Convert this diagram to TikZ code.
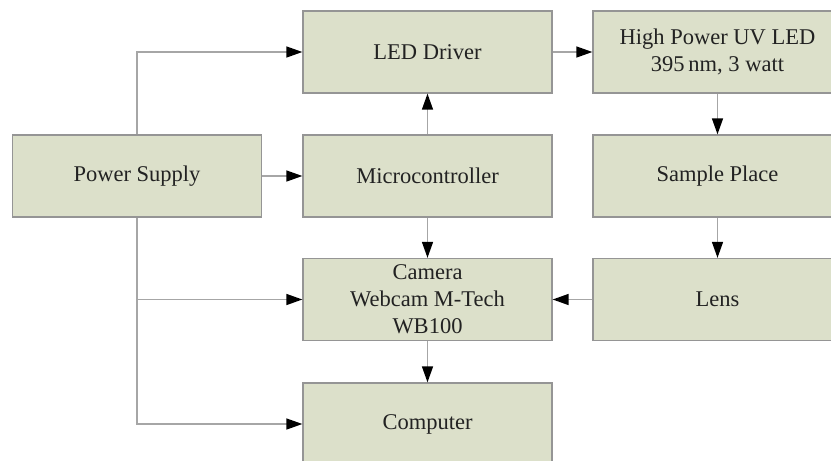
\documentclass[tikz,border=0pt]{standalone}
\usepackage{fontspec}
\newfontfamily\boxfont{Liberation Serif}
\usetikzlibrary{arrows.meta}
\definecolor{boxfill}{HTML}{DCE0CA}
\definecolor{boxline}{HTML}{959595}
\definecolor{wire}{HTML}{A6A6A6}
\definecolor{txt}{HTML}{222222}
\begin{document}
\begin{tikzpicture}[x=1pt,y=-1pt,
  blk/.style={draw=boxline,line width=1.3pt,fill=boxfill,minimum width=249pt,minimum height=82pt,
    inner sep=0pt,align=center,text=txt,font=\boxfont\fontsize{22.5}{27}\selectfont},
  conn/.style={draw=wire,line width=1.4pt,-{Triangle[length=16pt,width=11pt,color=black]}}]
\useasboundingbox (0,0) rectangle (831,461);
\begin{scope}
\clip (0,0) rectangle (831,461);
\node[blk] (ps) at (137,176) {Power Supply};
\node[blk] (led) at (427.5,52) {LED Driver};
\node[blk] (uv) at (717.5,52) {High Power UV LED\\395\,nm, 3 watt};
\node[blk] (mc) at (427.5,176) {Microcontroller};
\node[blk] (sp) at (717.5,176) {Sample Place};
\node[blk] (cam) at (427.5,299.5) {Camera\\Webcam M-Tech\\WB100};
\node[blk] (lens) at (717.5,299.5) {Lens};
\node[blk] (comp) at (427.5,424) {Computer};
\coordinate (tap) at (ps.south |- cam.west);
\draw[conn] (ps.north) |- (led.west);
\draw[conn] (ps.east) -- (mc.west);
\draw[conn] (ps.south) |- (comp.west);
\draw[conn] (tap) -- (cam.west);
\draw[conn] (mc.north) -- (led.south);
\draw[conn] (led.east) -- (uv.west);
\draw[conn] (uv.south) -- (sp.north);
\draw[conn] (sp.south) -- (lens.north);
\draw[conn] (lens.west) -- (cam.east);
\draw[conn] (mc.south) -- (cam.north);
\draw[conn] (cam.south) -- (comp.north);
\end{scope}
\end{tikzpicture}
\end{document}
